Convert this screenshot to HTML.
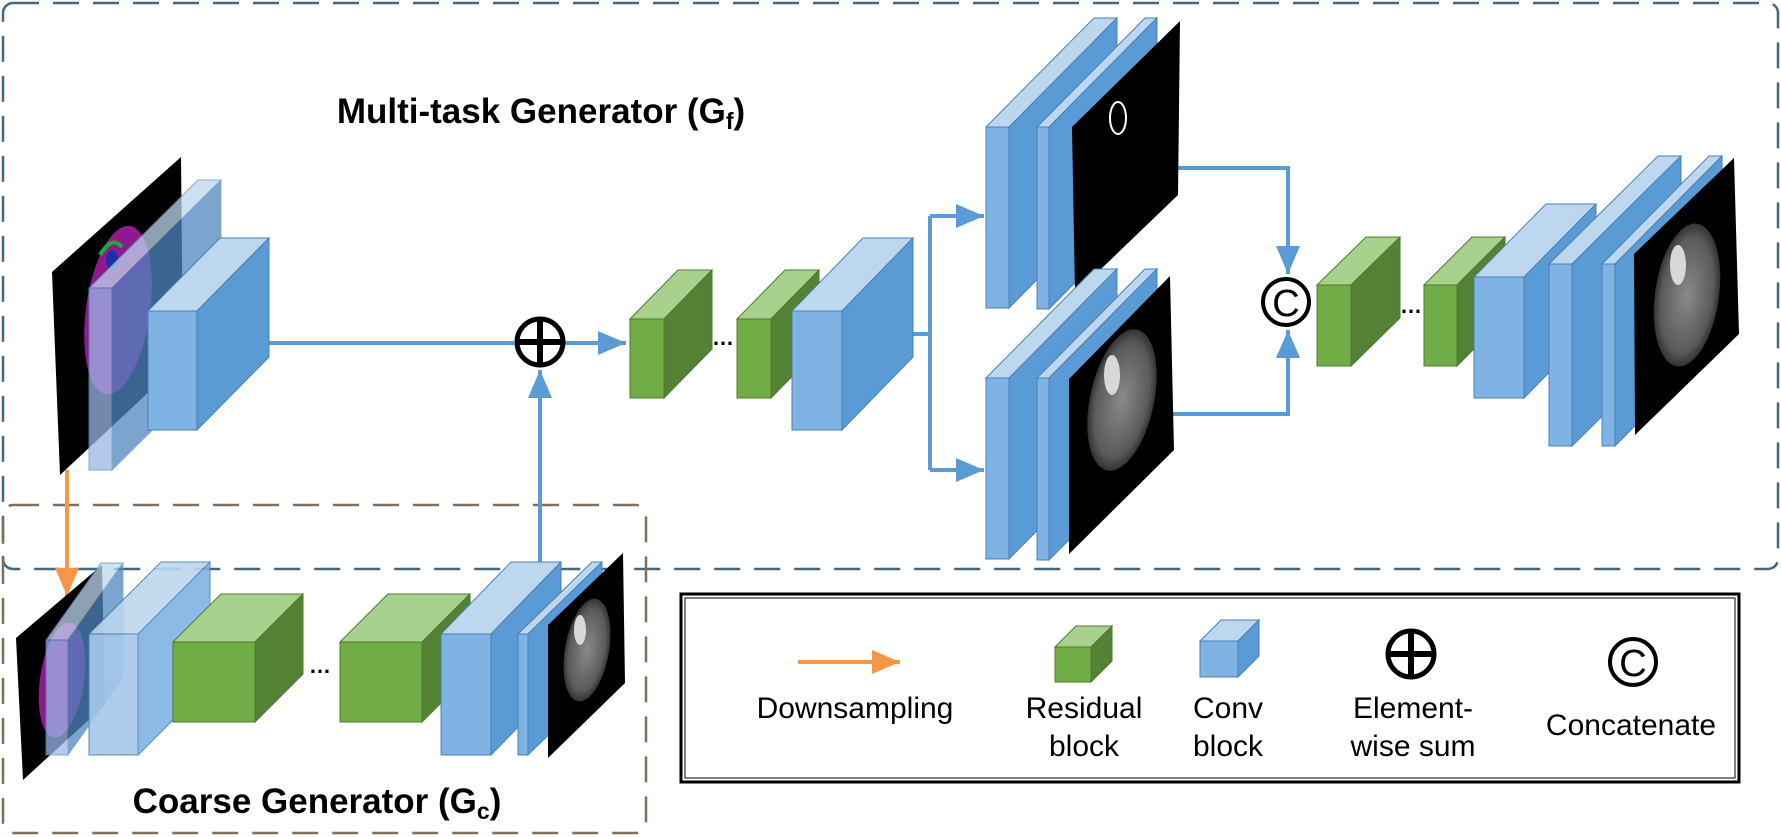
<!DOCTYPE html>
<html><head><meta charset="utf-8"><style>
html,body{margin:0;padding:0;background:#fff;}
svg{display:block;}
text{font-family:"Liberation Sans",Arial,sans-serif;}
</style></head><body>
<svg width="1781" height="837" viewBox="0 0 1781 837" xmlns="http://www.w3.org/2000/svg">
<defs>
<radialGradient id="brain" cx="50%" cy="50%" r="50%">
<stop offset="0" stop-color="#8a8a8a"/><stop offset="0.8" stop-color="#5a5a5a"/><stop offset="1" stop-color="#333"/>
</radialGradient>
<marker id="ah" markerWidth="8" markerHeight="6" refX="7" refY="3" orient="auto" markerUnits="strokeWidth">
<path d="M0,0 L7,3 L0,6 z" fill="#5b9bd5"/></marker>
<marker id="aho" markerWidth="8" markerHeight="6" refX="7" refY="3" orient="auto" markerUnits="strokeWidth">
<path d="M0,0 L7,3 L0,6 z" fill="#f79646"/></marker>
</defs>
<g stroke-linejoin="round">
<rect x="3" y="3" width="1775" height="566" rx="10" fill="none" stroke="#41697f" stroke-width="2.5" stroke-dasharray="26,14"/>
<rect x="3" y="505" width="643" height="328" rx="10" fill="none" stroke="#7f6f5a" stroke-width="2.5" stroke-dasharray="26,14"/>
</g>

<text x="541" y="123" font-size="35" font-weight="bold" text-anchor="middle">Multi-task Generator (G<tspan font-size="23" dy="6">f</tspan><tspan dy="-6">)</tspan></text>
<text x="317" y="813" font-size="35" font-weight="bold" text-anchor="middle">Coarse Generator (G<tspan font-size="23" dy="6">c</tspan><tspan dy="-6">)</tspan></text>

<g stroke="#5b9bd5" stroke-width="4" fill="none">
<line x1="269" y1="343" x2="514" y2="343"/>
<line x1="565" y1="343" x2="626" y2="343" marker-end="url(#ah)"/>
<line x1="540" y1="562" x2="540" y2="370" marker-end="url(#ah)"/>
<polyline points="913,334 930,334"/>
<polyline points="930,216 930,470"/>
<line x1="930" y1="216" x2="984" y2="216" marker-end="url(#ah)"/>
<line x1="930" y1="470" x2="984" y2="470" marker-end="url(#ah)"/>
<polyline points="1178,168 1288,168 1288,274" marker-end="url(#ah)"/>
<polyline points="1173,414 1288,414 1288,330" marker-end="url(#ah)"/>
</g>
<line x1="67" y1="470" x2="67" y2="596" stroke="#f79646" stroke-width="4" marker-end="url(#aho)"/>

<polygon points="52,272 181,157 183,360 60,475" fill="#000"/>
<ellipse cx="118" cy="310" rx="32" ry="85" fill="#8e1a8e" transform="rotate(8 118 310)"/>
<path d="M100,255 q12,-20 22,-8" stroke="#1faa3a" stroke-width="4" fill="none"/>
<ellipse cx="112" cy="260" rx="6" ry="10" fill="#1b2fa8"/>
<g stroke="#5a8fc0" stroke-width="1" opacity="0.75">
<polygon points="89,288 198,180 221,180 112,288" fill="#bdd7ee"/>
<polygon points="112,288 221,180 221,362 112,470" fill="#4f86c0"/>
<rect x="89" y="288" width="23" height="182" fill="#9ab6e6"/>
</g>
<g stroke="#4a7fb5" stroke-width="1">
<polygon points="148,311 220,238 269,238 197,311" fill="#bdd7ee"/>
<polygon points="197,311 269,238 269,357 197,430" fill="#5b9bd5"/>
<rect x="148" y="311" width="49" height="119" fill="#7fb3e3"/>
</g>

<circle cx="540" cy="342" r="23" fill="#fff" stroke="#000" stroke-width="5"/>
<line x1="540" y1="319" x2="540" y2="365" stroke="#000" stroke-width="6"/>
<line x1="517" y1="342" x2="563" y2="342" stroke="#000" stroke-width="6"/>

<g stroke="#4e7a2f" stroke-width="1">
<polygon points="630,319 678,270 712,270 664,319" fill="#a9d18e"/>
<polygon points="664,319 712,270 712,349 664,398" fill="#548235"/>
<rect x="630" y="319" width="34" height="79" fill="#70ad47"/>
<polygon points="737,319 785,270 819,270 771,319" fill="#a9d18e"/>
<polygon points="771,319 819,270 819,349 771,398" fill="#548235"/>
<rect x="737" y="319" width="34" height="79" fill="#70ad47"/>
</g>
<text x="712" y="345" font-size="22" font-weight="bold">…</text>
<g stroke="#4a7fb5" stroke-width="1">
<polygon points="792,311 863,238 913,238 842,311" fill="#bdd7ee"/>
<polygon points="842,311 913,238 913,357 842,430" fill="#5b9bd5"/>
<rect x="792" y="311" width="50" height="119" fill="#7fb3e3"/>
</g>

<g stroke="#4a7fb5" stroke-width="1">
<polygon points="986,127 1094,18 1117,18 1009,127" fill="#bdd7ee"/>
<polygon points="1009,127 1117,18 1117,199 1009,308" fill="#5b9bd5"/>
<rect x="986" y="127" width="23" height="181" fill="#7fb3e3"/>
<polygon points="1037,127 1145,18 1157,18 1049,127" fill="#bdd7ee"/>
<polygon points="1049,127 1157,18 1157,200 1049,309" fill="#5b9bd5"/>
<rect x="1037" y="127" width="12" height="182" fill="#7fb3e3"/>
</g>
<polygon points="1072,127 1180,21 1178,195 1075,294" fill="#000"/>
<ellipse cx="1118" cy="118" rx="8" ry="16" fill="none" stroke="#fff" stroke-width="2"/>
<g stroke="#4a7fb5" stroke-width="1">
<polygon points="986,378 1094,269 1117,269 1009,378" fill="#bdd7ee"/>
<polygon points="1009,378 1117,269 1117,450 1009,559" fill="#5b9bd5"/>
<rect x="986" y="378" width="23" height="181" fill="#7fb3e3"/>
<polygon points="1037,378 1145,269 1157,269 1049,378" fill="#bdd7ee"/>
<polygon points="1049,378 1157,269 1157,451 1049,560" fill="#5b9bd5"/>
<rect x="1037" y="378" width="12" height="182" fill="#7fb3e3"/>
</g>
<polygon points="1069,379 1170,276 1174,450 1069,554" fill="#000"/>
<ellipse cx="1122" cy="400" rx="32" ry="72" fill="url(#brain)" transform="rotate(12 1122 400)"/>
<ellipse cx="1112" cy="375" rx="8" ry="20" fill="#d8d8d8"/>

<circle cx="1286" cy="302" r="23" fill="#fff" stroke="#000" stroke-width="4"/>
<text x="1286" y="316" font-size="38" text-anchor="middle" font-family="Liberation Serif,serif">C</text>

<g stroke="#4e7a2f" stroke-width="1">
<polygon points="1317,285 1366,237 1400,237 1351,285" fill="#a9d18e"/>
<polygon points="1351,285 1400,237 1400,318 1351,366" fill="#548235"/>
<rect x="1317" y="285" width="34" height="81" fill="#70ad47"/>
<polygon points="1424,285 1472,237 1505,237 1457,285" fill="#a9d18e"/>
<polygon points="1457,285 1505,237 1505,318 1457,366" fill="#548235"/>
<rect x="1424" y="285" width="33" height="81" fill="#70ad47"/>
</g>
<text x="1400" y="313" font-size="22" font-weight="bold">…</text>
<g stroke="#4a7fb5" stroke-width="1">
<polygon points="1474,277 1546,204 1596,204 1524,277" fill="#bdd7ee"/>
<polygon points="1524,277 1596,204 1596,325 1524,398" fill="#5b9bd5"/>
<rect x="1474" y="277" width="50" height="121" fill="#7fb3e3"/>
<polygon points="1549,264 1658,156 1681,156 1572,264" fill="#bdd7ee"/>
<polygon points="1572,264 1681,156 1681,338 1572,446" fill="#5b9bd5"/>
<rect x="1549" y="264" width="23" height="182" fill="#7fb3e3"/>
<polygon points="1602,264 1709,156 1722,156 1615,264" fill="#bdd7ee"/>
<polygon points="1615,264 1722,156 1722,338 1615,446" fill="#5b9bd5"/>
<rect x="1602" y="264" width="13" height="182" fill="#7fb3e3"/>
</g>
<polygon points="1634,254 1734,158 1739,334 1635,435" fill="#000"/>
<ellipse cx="1687" cy="295" rx="32" ry="72" fill="url(#brain)" transform="rotate(8 1687 295)"/>
<ellipse cx="1678" cy="265" rx="8" ry="20" fill="#d8d8d8"/>

<polygon points="16,638 102,565 105,705 23,780" fill="#000"/>
<ellipse cx="62" cy="680" rx="22" ry="58" fill="#8e1a8e" transform="rotate(8 62 680)"/>
<g stroke="#5a8fc0" stroke-width="1" opacity="0.75">
<polygon points="46,640 101,563 123,563 68,640" fill="#bdd7ee"/>
<polygon points="68,640 123,563 123,678 68,755" fill="#4f86c0"/>
<rect x="46" y="640" width="22" height="115" fill="#9ab6e6"/>
</g>
<g stroke="#4a7fb5" stroke-width="1" opacity="0.9">
<polygon points="89,634 161,562 210,562 138,634" fill="#bdd7ee"/>
<polygon points="138,634 210,562 210,683 138,755" fill="#7fb3e3"/>
<rect x="89" y="634" width="49" height="121" fill="#a6c8ec"/>
</g>
<g stroke="#4e7a2f" stroke-width="1">
<polygon points="173,642 221,594 303,594 255,642" fill="#a9d18e"/>
<polygon points="255,642 303,594 303,674 255,722" fill="#548235"/>
<rect x="173" y="642" width="82" height="80" fill="#70ad47"/>
<polygon points="340,642 388,594 470,594 422,642" fill="#a9d18e"/>
<polygon points="422,642 470,594 470,674 422,722" fill="#548235"/>
<rect x="340" y="642" width="82" height="80" fill="#70ad47"/>
</g>
<text x="309" y="673" font-size="22" font-weight="bold">…</text>
<g stroke="#4a7fb5" stroke-width="1">
<polygon points="441,634 511,562 561,562 491,634" fill="#bdd7ee"/>
<polygon points="491,634 561,562 561,683 491,755" fill="#5b9bd5"/>
<rect x="441" y="634" width="50" height="121" fill="#7fb3e3"/>
<polygon points="518,634 592,562 602,562 528,634" fill="#bdd7ee"/>
<polygon points="528,634 602,562 602,683 528,755" fill="#5b9bd5"/>
<rect x="518" y="634" width="10" height="121" fill="#7fb3e3"/>
</g>
<polygon points="548,625 623,553 625,683 548,758" fill="#000"/>
<ellipse cx="587" cy="650" rx="22" ry="52" fill="url(#brain)" transform="rotate(10 587 650)"/>
<ellipse cx="580" cy="630" rx="6" ry="15" fill="#d8d8d8"/>

<rect x="681" y="594" width="1058" height="188" fill="#fff" stroke="#000" stroke-width="3"/>
<rect x="685" y="598" width="1050" height="180" fill="none" stroke="#000" stroke-width="1"/>
<line x1="798" y1="662" x2="900" y2="662" stroke="#f79646" stroke-width="4" marker-end="url(#aho)"/>
<text x="855" y="718" font-size="30" text-anchor="middle">Downsampling</text>
<g stroke="#4e7a2f" stroke-width="1">
<polygon points="1055,647 1076,626 1112,626 1091,647" fill="#a9d18e"/>
<polygon points="1091,647 1112,626 1112,661 1091,682" fill="#548235"/>
<rect x="1055" y="647" width="36" height="35" fill="#70ad47"/>
</g>
<text x="1084" y="718" font-size="30" text-anchor="middle">Residual</text>
<text x="1084" y="756" font-size="30" text-anchor="middle">block</text>
<g stroke="#4a7fb5" stroke-width="1">
<polygon points="1200,641 1221,620 1259,620 1238,641" fill="#bdd7ee"/>
<polygon points="1238,641 1259,620 1259,656 1238,677" fill="#5b9bd5"/>
<rect x="1200" y="641" width="38" height="36" fill="#7fb3e3"/>
</g>
<text x="1193" y="718" font-size="30">Conv</text>
<text x="1193" y="756" font-size="30">block</text>
<circle cx="1411" cy="654" r="23" fill="#fff" stroke="#000" stroke-width="5"/>
<line x1="1411" y1="631" x2="1411" y2="677" stroke="#000" stroke-width="6"/>
<line x1="1388" y1="654" x2="1434" y2="654" stroke="#000" stroke-width="6"/>
<text x="1413" y="718" font-size="30" text-anchor="middle">Element-</text>
<text x="1413" y="756" font-size="30" text-anchor="middle">wise sum</text>
<circle cx="1633" cy="662" r="23" fill="#fff" stroke="#000" stroke-width="4"/>
<text x="1633" y="676" font-size="38" text-anchor="middle" font-family="Liberation Serif,serif">C</text>
<text x="1631" y="735" font-size="30" text-anchor="middle">Concatenate</text>
</svg>
</body></html>
